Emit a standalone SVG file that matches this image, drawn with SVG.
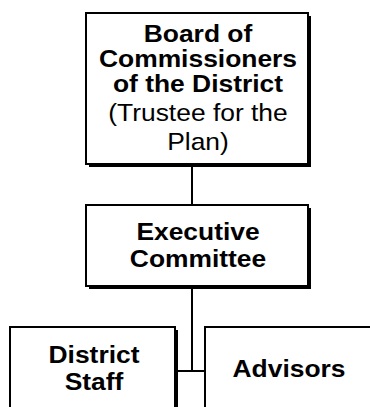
<svg xmlns="http://www.w3.org/2000/svg" width="370" height="407" viewBox="0 0 370 407">
<defs>
<style>
.shadow{fill:#000;stroke:none}
.box{fill:#fff;stroke:#000;stroke-width:2}
.conn{stroke:#000;stroke-width:2;fill:none}
text{font-family:"Liberation Sans",Arial,sans-serif;font-size:24px;fill:#000;text-anchor:middle}
.b{font-weight:bold}
</style>
</defs>
<rect width="370" height="407" fill="#fff"/>
<g id="connectors">
<line class="conn" x1="192" y1="167" x2="192" y2="205"/>
<line class="conn" x1="192" y1="289" x2="192" y2="371"/>
<line class="conn" x1="178" y1="371" x2="205" y2="371"/>
</g>
<g id="board">
<rect class="shadow" x="89" y="16" width="222" height="151"/>
<rect class="box" x="86" y="13" width="222" height="151"/>
<g transform="translate(198 0) scale(1.1 1)">
<text class="b" x="0" y="42">Board of</text>
<text class="b" x="0" y="67">Commissioners</text>
<text class="b" x="0" y="92">of the District</text>
<text x="0" y="121">(Trustee for the</text>
<text x="0" y="150">Plan)</text>
</g>
</g>
<g id="executive">
<rect class="shadow" x="89" y="208" width="222" height="81"/>
<rect class="box" x="86" y="205" width="222" height="81"/>
<g transform="translate(198 0) scale(1.1 1)">
<text class="b" x="0" y="240">Executive</text>
<text class="b" x="0" y="267">Committee</text>
</g>
</g>
<g id="staff">
<rect class="shadow" x="13" y="330" width="165" height="100"/>
<rect class="box" x="10" y="327" width="165" height="100"/>
<g transform="translate(94 0) scale(1.1 1)">
<text class="b" x="0" y="363">District</text>
<text class="b" x="0" y="390">Staff</text>
</g>
</g>
<g id="advisors">
<rect class="shadow" x="208" y="330" width="175" height="100"/>
<rect class="box" x="205" y="327" width="175" height="100"/>
<g transform="translate(289 0) scale(1.1 1)">
<text class="b" x="0" y="377">Advisors</text>
</g>
</g>
</svg>
